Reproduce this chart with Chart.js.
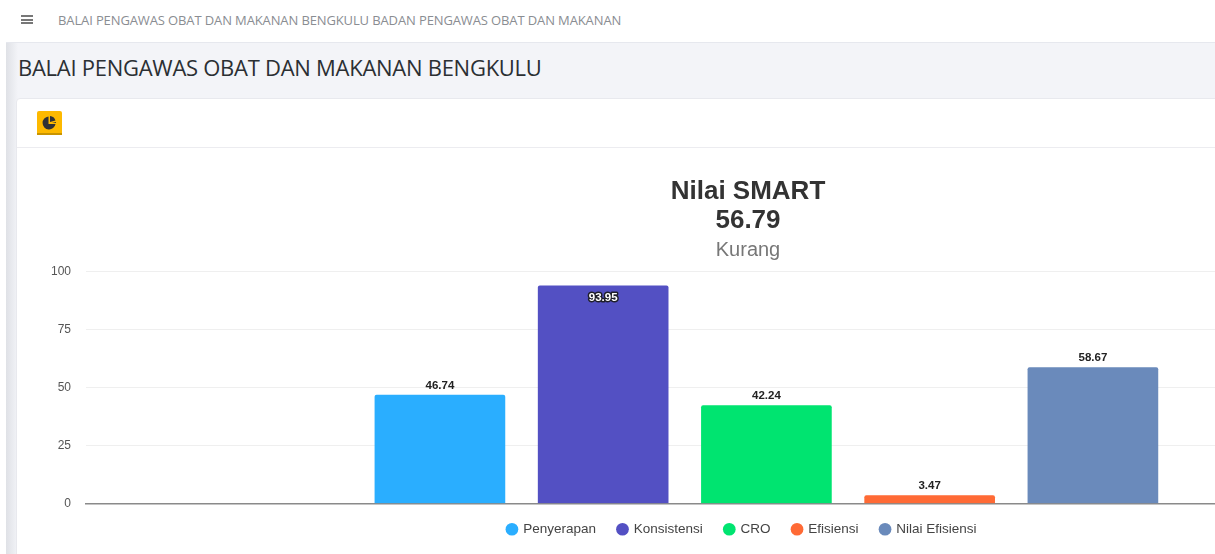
<!DOCTYPE html>
<html>
<head>
<meta charset="utf-8">
<script src="https://cdn.jsdelivr.net/npm/chart.js@4"></script>
<style>
    html, body{ margin:0; padding:0; width:1215px; height:554px; overflow:hidden; background:#fff; }
    #page{ position:absolute; left:0; top:0; width:1215px; height:554px; overflow:hidden; background:#f3f4f8; }
    #sidebar{ position:absolute; left:0; top:0; width:6px; height:554px; background:#fff; }
    #shade{ position:absolute; left:6px; top:0; width:12px; height:554px; background:linear-gradient(to right,#dfe1e6,#f3f4f8); }
    #topbar{ position:absolute; left:6px; top:0; width:1209px; height:42px; background:#fff; border-bottom:1px solid #e6e8ee; }
    #burger{ position:absolute; left:15px; top:15px; width:12px; height:5px;
        border-top:2px solid #777; border-bottom:2px solid #777; }
    #burger:after{ content:""; position:absolute; left:0; top:1.5px; width:12px; height:2px; background:#777; }
    #crumb{ position:absolute; left:52px; top:11px; font:13px "Open Sans",sans-serif; color:#8a8d92; white-space:nowrap; letter-spacing:-0.12px; }
    #heading{ position:absolute; left:18px; top:52px; font:22px "Open Sans",sans-serif; color:#2b2f33; white-space:nowrap; letter-spacing:-0.27px; }
    #card{ position:absolute; left:16px; top:98px; width:1215px; height:470px; background:#fff; border:1px solid #e8e9ee; border-radius:4px; }
    #cardhead{ position:absolute; left:0; top:0; right:0; height:48px; border-bottom:1px solid #ececf0; }
    #btn{ position:absolute; left:20px; top:12px; width:25px; height:24px; }
    #chartBox{ position:absolute; left:18px; top:148px; width:1460px; height:409px; }
</style>
</head>
<body>
<div id="page">
    <div id="sidebar"></div>
    <div id="shade"></div>
    <div id="topbar">
        <div id="burger"></div>
        <div id="crumb">BALAI PENGAWAS OBAT DAN MAKANAN BENGKULU BADAN PENGAWAS OBAT DAN MAKANAN</div>
    </div>
    <div id="heading">BALAI PENGAWAS OBAT DAN MAKANAN BENGKULU</div>
    <div id="card">
        <div id="cardhead">
            <svg id="btn" viewBox="0 0 25 24">
                <rect width="25" height="24" rx="2" fill="#fdb900"/>
                <rect y="22" width="25" height="2" fill="#c99400"/>
                <path d="M11.5 5.5 A6.5 6.5 0 1 0 18.5 13 L11.5 13 Z" fill="#2f3136"/>
                <path d="M13 5 A6.5 6.5 0 0 1 18.5 9.5 L13 11 Z" fill="#2f3136"/>
                <path d="M15 12 L19 11 A6.5 6.5 0 0 1 19 12 Z" fill="#2f3136"/>
            </svg>
        </div>
    </div>
    <div id="chartBox"><canvas id="smartChart"></canvas></div>
</div>

<script>
    const categories = ["Penyerapan", "Konsistensi", "CRO", "Efisiensi", "Nilai Efisiensi"];
    const seriesValues = [46.74, 93.95, 42.24, 3.47, 58.67];
    const barColors = ["#2aaeff", "#5350c3", "#00e470", "#ff6a35", "#6a8abb"];
    const yTicks = [0, 25, 50, 75, 100];
    const titleLines = ["Nilai SMART", "56.79"];
    const subtitleText = "Kurang";

    /* one dataset per category so the legend lists them all */
    const datasets = categories.map(function(name, i){
        return {
            label: name,
            data: [{ x: i + 1, y: seriesValues[i] }],
            backgroundColor: barColors[i],
            borderRadius: 2,
            borderSkipped: "bottom",
            barThickness: 130,
            grouped: false
        };
    });

    /* value labels on top of the bars */
    const valueLabels = {
        id: "valueLabels",
        afterDatasetsDraw: function(chart){
            const ctx = chart.ctx;
            ctx.save();
            ctx.font = "bold 11.5px 'Liberation Sans', Arial, sans-serif";
            ctx.textAlign = "center";
            ctx.textBaseline = "bottom";
            chart.data.datasets.forEach(function(ds, i){
                const bar = chart.getDatasetMeta(i).data[0];
                const value = ds.data[0].y.toFixed(2);
                if(ds.data[0].y > 90){
                    /* no room above: goes inside the bar, white with dark outline */
                    ctx.lineWidth = 3;
                    ctx.lineJoin = "round";
                    ctx.strokeStyle = "#1f1f2a";
                    ctx.strokeText(value, bar.x, bar.y + 18);
                    ctx.fillStyle = "#ffffff";
                    ctx.fillText(value, bar.x, bar.y + 18);
                }else{
                    ctx.fillStyle = "#222222";
                    ctx.fillText(value, bar.x, bar.y - 4);
                }
            });
            ctx.restore();
        }
    };

    /* legend sits a little left of centre and close under the axis */
    const legendNudge = {
        id: "legendNudge",
        afterLayout: function(chart){
            chart.legend.left -= 6;
            chart.legend.right -= 6;
            chart.legend.top = chart.chartArea.bottom - 3;
        }
    };

    new Chart(document.getElementById("smartChart"), {
        type: "bar",
        data: { datasets: datasets },
        plugins: [valueLabels, legendNudge],
        options: {
            responsive: true,
            maintainAspectRatio: false,
            animation: false,
            layout: { padding: { left: 0, right: 0, top: 29, bottom: 0 } },
            plugins: {
                tooltip: { enabled: false },
                title: {
                    display: true,
                    text: titleLines,
                    color: "#333333",
                    font: { family: "'Liberation Sans', Arial, sans-serif", size: 26, weight: "bold", lineHeight: 1.13 },
                    padding: { top: 0, bottom: 0 }
                },
                subtitle: {
                    display: true,
                    text: subtitleText,
                    color: "#777777",
                    font: { family: "'Liberation Sans', Arial, sans-serif", size: 20, weight: "normal" },
                    padding: { top: 3, bottom: 9 }
                },
                legend: {
                    position: "bottom",
                    labels: {
                        usePointStyle: true,
                        pointStyle: "circle",
                        boxWidth: 9,
                        boxHeight: 9,
                        padding: 22,
                        color: "#444444",
                        font: { family: "'Liberation Sans', Arial, sans-serif", size: 13.5 }
                    }
                }
            },
            scales: {
                x: {
                    type: "linear",
                    offset: false,
                    min: -1.168,
                    max: 7.359,
                    ticks: { display: false },
                    grid: { display: false },
                    border: { display: true, color: "#8a8a8a", width: 1.5 }
                },
                y: {
                    min: 0,
                    max: 100,
                    afterBuildTicks: function(axis){
                        axis.ticks = yTicks.map(function(v){ return { value: v }; });
                    },
                    afterFit: function(axis){
                        axis.width = 68;
                    },
                    ticks: { color: "#555555", padding: 15, font: { family: "'Liberation Sans', Arial, sans-serif", size: 12 } },
                    grid: { color: "#efefef", drawTicks: false },
                    border: { display: false }
                }
            }
        }
    });
</script>
</body>
</html>
